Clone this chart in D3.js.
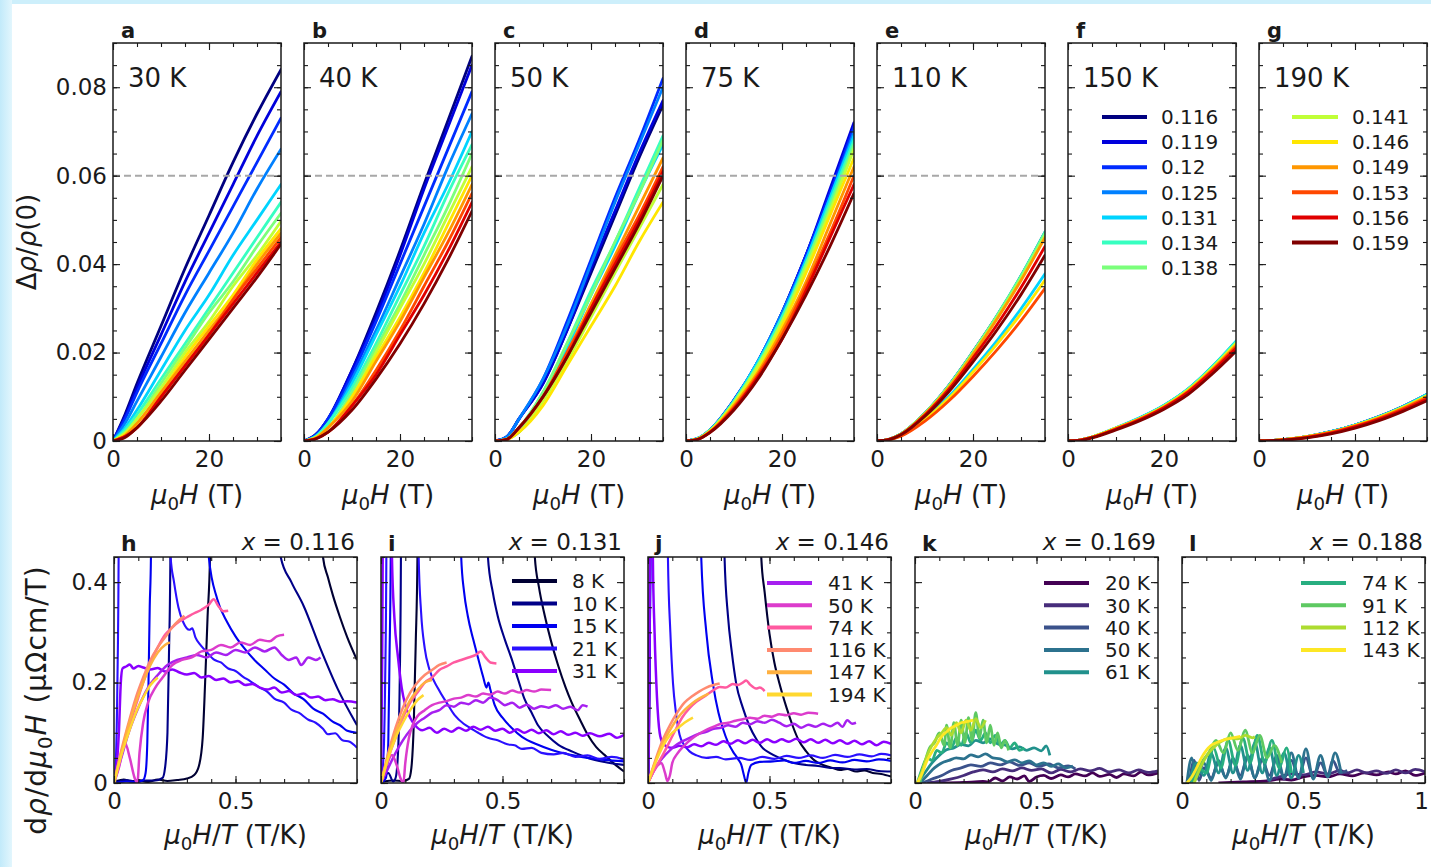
<!DOCTYPE html>
<html>
<head>
<meta charset="utf-8">
<title>Magnetoresistance and field derivative</title>
<script src="https://d3js.org/d3.v7.min.js"></script>
<style>
  body { margin: 0; background: #fff; }
  svg { display: block; }
</style>
</head>
<body>
<div id="chart"></div>
<script>

// ---------- top row: delta rho / rho(0) vs field, one array per temperature ----------
var fieldT = [0, 2.5, 5, 10, 15, 20, 25, 30, 35];
var dopings = ["0.116", "0.119", "0.12", "0.125", "0.131", "0.134", "0.138",
               "0.141", "0.146", "0.149", "0.153", "0.156", "0.159"];
var panelTemps = ["30 K", "40 K", "50 K", "75 K", "110 K", "150 K", "190 K"];

var mr30 = [
  [0, 0.006, 0.013, 0.026, 0.039, 0.051, 0.063, 0.074, 0.084],
  [0, 0.0055, 0.012, 0.024, 0.036, 0.047, 0.058, 0.069, 0.079],
  [0, 0.005, 0.011, 0.022, 0.033, 0.043, 0.053, 0.063, 0.073],
  [0, 0.004, 0.009, 0.019, 0.029, 0.038, 0.047, 0.057, 0.066],
  [0, 0.003, 0.007, 0.016, 0.025, 0.033, 0.042, 0.05, 0.058],
  [0, 0.0025, 0.006, 0.014, 0.022, 0.03, 0.038, 0.046, 0.054],
  [0, 0.002, 0.005, 0.013, 0.021, 0.029, 0.036, 0.044, 0.0515],
  [0, 0.0018, 0.005, 0.012, 0.02, 0.027, 0.035, 0.042, 0.0497],
  [0, 0.0015, 0.004, 0.011, 0.019, 0.026, 0.033, 0.041, 0.048],
  [0, 0.0012, 0.004, 0.011, 0.018, 0.025, 0.032, 0.04, 0.047],
  [0, 0.001, 0.003, 0.01, 0.017, 0.024, 0.032, 0.039, 0.046],
  [0, 0.001, 0.003, 0.01, 0.017, 0.024, 0.031, 0.038, 0.045],
  [0, 0.0008, 0.003, 0.009, 0.016, 0.023, 0.03, 0.037, 0.0445]
];
var mr40 = [
  [0, 0.0015, 0.005, 0.016, 0.029, 0.043, 0.058, 0.0725, 0.087],
  [0, 0.0015, 0.005, 0.016, 0.028, 0.042, 0.057, 0.071, 0.085],
  [0, 0.0014, 0.005, 0.015, 0.027, 0.04, 0.053, 0.066, 0.079],
  [0, 0.0012, 0.004, 0.014, 0.025, 0.037, 0.049, 0.062, 0.074],
  [0, 0.0011, 0.004, 0.013, 0.024, 0.035, 0.047, 0.058, 0.07],
  [0, 0.001, 0.004, 0.012, 0.022, 0.033, 0.044, 0.056, 0.067],
  [0, 0.0009, 0.003, 0.011, 0.021, 0.031, 0.042, 0.053, 0.065],
  [0, 0.0008, 0.003, 0.01, 0.02, 0.03, 0.04, 0.051, 0.062],
  [0, 0.0008, 0.003, 0.01, 0.019, 0.028, 0.038, 0.049, 0.06],
  [0, 0.0007, 0.003, 0.009, 0.018, 0.027, 0.037, 0.047, 0.058],
  [0, 0.0006, 0.002, 0.008, 0.016, 0.025, 0.035, 0.045, 0.056],
  [0, 0.0005, 0.002, 0.008, 0.015, 0.024, 0.033, 0.043, 0.054],
  [0, 0.0005, 0.002, 0.007, 0.014, 0.022, 0.031, 0.041, 0.052]
];
var mr50 = [
  [0, 0.001, 0.005, 0.013, 0.025, 0.038, 0.051, 0.064, 0.076],
  [0, 0.001, 0.005, 0.013, 0.025, 0.039, 0.052, 0.065, 0.077],
  [0, 0.001, 0.005, 0.014, 0.027, 0.041, 0.055, 0.068, 0.082],
  [0, 0.001, 0.005, 0.014, 0.026, 0.04, 0.054, 0.067, 0.08],
  [0, 0.0005, 0.002, 0.011, 0.021, 0.033, 0.044, 0.056, 0.067],
  [0, 0.0005, 0.003, 0.011, 0.022, 0.034, 0.045, 0.057, 0.069],
  [0, 0.0005, 0.003, 0.011, 0.022, 0.033, 0.045, 0.056, 0.068],
  [0, 0.0004, 0.002, 0.009, 0.018, 0.028, 0.038, 0.048, 0.058],
  [0, 0.0003, 0.002, 0.008, 0.017, 0.026, 0.035, 0.045, 0.054],
  [0, 0.0004, 0.003, 0.01, 0.02, 0.031, 0.042, 0.053, 0.064],
  [0, 0.0004, 0.003, 0.01, 0.02, 0.03, 0.041, 0.051, 0.062],
  [0, 0.0004, 0.003, 0.01, 0.019, 0.03, 0.04, 0.05, 0.061],
  [0, 0.0004, 0.003, 0.01, 0.019, 0.029, 0.039, 0.049, 0.06]
];
var mr75 = [
  [0, 0.0006, 0.0025, 0.0092, 0.018, 0.029, 0.042, 0.056, 0.071],
  [0, 0.0006, 0.0025, 0.0093, 0.018, 0.029, 0.042, 0.057, 0.072],
  [0, 0.0006, 0.0025, 0.0092, 0.018, 0.029, 0.042, 0.056, 0.071],
  [0, 0.0006, 0.0025, 0.0092, 0.018, 0.029, 0.041, 0.055, 0.07],
  [0, 0.0006, 0.0025, 0.0091, 0.018, 0.028, 0.041, 0.055, 0.069],
  [0, 0.0006, 0.0024, 0.009, 0.0175, 0.028, 0.04, 0.054, 0.068],
  [0, 0.0005, 0.0024, 0.0088, 0.017, 0.027, 0.04, 0.053, 0.067],
  [0, 0.0005, 0.0023, 0.0086, 0.017, 0.027, 0.039, 0.052, 0.066],
  [0, 0.0005, 0.0022, 0.0083, 0.016, 0.026, 0.038, 0.051, 0.064],
  [0, 0.0005, 0.0021, 0.008, 0.0155, 0.025, 0.036, 0.049, 0.062],
  [0, 0.0004, 0.002, 0.0076, 0.015, 0.024, 0.035, 0.047, 0.06],
  [0, 0.0004, 0.002, 0.0073, 0.0145, 0.023, 0.034, 0.046, 0.058],
  [0, 0.0004, 0.0019, 0.007, 0.014, 0.023, 0.033, 0.044, 0.056]
];
var mr110 = [
  [0, 0.0004, 0.0016, 0.0063, 0.0126, 0.0202, 0.0283, 0.0373, 0.0472],
  [0, 0.0004, 0.0016, 0.0063, 0.0126, 0.0201, 0.0282, 0.0372, 0.047],
  [0, 0.0004, 0.0016, 0.0062, 0.0125, 0.02, 0.028, 0.037, 0.0468],
  [0, 0.0004, 0.0016, 0.0062, 0.0124, 0.0199, 0.0279, 0.0368, 0.0466],
  [0, 0.0003, 0.0013, 0.0051, 0.0101, 0.0162, 0.0227, 0.0299, 0.0378],
  [0, 0.0004, 0.0016, 0.0063, 0.0126, 0.0202, 0.0284, 0.0374, 0.0473],
  [0, 0.0004, 0.0016, 0.0063, 0.0125, 0.0201, 0.0282, 0.0371, 0.0469],
  [0, 0.0004, 0.0016, 0.0062, 0.0123, 0.0198, 0.0278, 0.0366, 0.0463],
  [0, 0.0003, 0.0012, 0.0049, 0.0097, 0.0156, 0.0219, 0.0288, 0.0364],
  [0, 0.0004, 0.0015, 0.0061, 0.0122, 0.0196, 0.0276, 0.0363, 0.046],
  [0, 0.0003, 0.0011, 0.0045, 0.0091, 0.0146, 0.0206, 0.0272, 0.0345],
  [0, 0.0004, 0.0015, 0.0059, 0.0117, 0.0188, 0.0263, 0.0347, 0.044],
  [0, 0.0003, 0.0014, 0.0056, 0.0112, 0.0179, 0.0251, 0.0331, 0.042]
];
var mr150 = [
  [0, 0.0002, 0.0009, 0.0029, 0.0052, 0.008, 0.0117, 0.0167, 0.0224],
  [0, 0.0002, 0.0009, 0.0029, 0.0052, 0.008, 0.0117, 0.0166, 0.0223],
  [0, 0.0002, 0.0009, 0.0029, 0.0051, 0.0079, 0.0116, 0.0165, 0.0222],
  [0, 0.0002, 0.0009, 0.0029, 0.0052, 0.008, 0.0116, 0.0166, 0.0223],
  [0, 0.0002, 0.0009, 0.003, 0.0053, 0.0081, 0.0118, 0.0168, 0.0226],
  [0, 0.0002, 0.0009, 0.0029, 0.0052, 0.008, 0.0117, 0.0167, 0.0224],
  [0, 0.0002, 0.0009, 0.0029, 0.0051, 0.0079, 0.0116, 0.0165, 0.0222],
  [0, 0.0002, 0.0009, 0.0029, 0.0051, 0.0078, 0.0115, 0.0164, 0.022],
  [0, 0.0002, 0.0009, 0.0029, 0.0051, 0.0078, 0.0114, 0.0163, 0.0219],
  [0, 0.0002, 0.0008, 0.0028, 0.005, 0.0077, 0.0113, 0.0161, 0.0216],
  [0, 0.0002, 0.0008, 0.0027, 0.0049, 0.0076, 0.0111, 0.0159, 0.0213],
  [0, 0.0002, 0.0008, 0.0027, 0.0048, 0.0075, 0.011, 0.0157, 0.021],
  [0, 0.0001, 0.0007, 0.0025, 0.0046, 0.0072, 0.0105, 0.0151, 0.0203]
];
var mr190 = [
  [0, 0.0001, 0.0003, 0.001, 0.0021, 0.0036, 0.0055, 0.0078, 0.0105],
  [0, 0.0001, 0.0003, 0.001, 0.0021, 0.0036, 0.0055, 0.0078, 0.0105],
  [0, 0.0001, 0.0003, 0.001, 0.0021, 0.0036, 0.0054, 0.0077, 0.0104],
  [0, 0.0001, 0.0003, 0.001, 0.0021, 0.0036, 0.0054, 0.0077, 0.0104],
  [0, 0.0001, 0.0003, 0.001, 0.0021, 0.0036, 0.0055, 0.0078, 0.0106],
  [0, 0.0001, 0.0003, 0.001, 0.0021, 0.0036, 0.0054, 0.0077, 0.0104],
  [0, 0.0001, 0.0003, 0.001, 0.002, 0.0035, 0.0054, 0.0076, 0.0103],
  [0, 0.0001, 0.0003, 0.001, 0.002, 0.0035, 0.0053, 0.0076, 0.0102],
  [0, 0.0001, 0.0003, 0.001, 0.002, 0.0035, 0.0053, 0.0075, 0.0102],
  [0, 0.0001, 0.0003, 0.001, 0.002, 0.0034, 0.0052, 0.0074, 0.01],
  [0, 0.0001, 0.0003, 0.0009, 0.0019, 0.0033, 0.0051, 0.0073, 0.0098],
  [0, 0.0001, 0.0002, 0.0008, 0.0018, 0.0032, 0.0049, 0.007, 0.0095],
  [0, 0.0001, 0.0002, 0.0007, 0.0016, 0.0029, 0.0046, 0.0067, 0.0091]
];

// ---------- bottom row: d rho / d mu0H vs mu0H/T, [x, y] pairs per temperature ----------
var sweepTemps = ["8 K", "10 K", "15 K", "21 K", "31 K", "41 K", "50 K", "74 K", "116 K", "147 K", "194 K"];
var dopingH = ["0.116", "0.131", "0.146", "0.169", "0.188"];

var dH = [
  [[0.01,0.004],[0.04,0.007],[0.07,0.003],[0.1,0.006],[0.14,0.002],[0.18,0.007],[0.22,0.004],[0.26,0.006],[0.3,0.009],[0.33,0.016],[0.35,0.035],[0.365,0.09],[0.375,0.2],[0.385,0.33],[0.395,0.45],[0.4,2],[0.84,2],[0.86,0.45],[0.88,0.41],[0.9,0.375],[0.93,0.33],[0.96,0.29],[1,0.245]],
  [[0.01,0.002],[0.05,0.006],[0.09,0.003],[0.13,0.005],[0.17,0.005],[0.2,0.01],[0.21,0.03],[0.22,0.1],[0.226,0.25],[0.232,0.45],[0.236,2],[0.68,2],[0.686,0.45],[0.73,0.4],[0.78,0.353],[0.85,0.267],[0.92,0.188],[1,0.115]],
  [[0.01,0],[0.05,0.003],[0.09,0.002],[0.12,0.006],[0.13,0.02],[0.137,0.08],[0.142,0.2],[0.147,0.35],[0.152,0.45],[0.156,2],[0.385,2],[0.39,0.45],[0.425,0.366],[0.466,0.32],[0.5,0.292],[0.54,0.266],[0.58,0.244],[0.62,0.226],[0.66,0.208],[0.7,0.196],[0.74,0.178],[0.78,0.167],[0.82,0.148],[0.86,0.138],[0.9,0.122],[0.93,0.115],[0.96,0.104],[1,0.1]],
  [[0,0],[0.008,0.05],[0.014,0.2],[0.019,0.45],[0.022,2],[0.228,2],[0.233,0.45],[0.247,0.4],[0.265,0.35],[0.285,0.32],[0.31,0.305],[0.322,0.308],[0.335,0.29],[0.357,0.274],[0.38,0.262],[0.41,0.246],[0.44,0.24],[0.47,0.228],[0.5,0.223],[0.53,0.212],[0.56,0.203],[0.6,0.19],[0.63,0.182],[0.66,0.168],[0.7,0.16],[0.73,0.146],[0.76,0.14],[0.8,0.126],[0.83,0.12],[0.86,0.108],[0.88,0.097],[0.91,0.099],[0.94,0.085],[0.97,0.082],[1,0.07]],
  [[0,0],[0.01,0.03],[0.02,0.1],[0.028,0.2],[0.035,0.228],[0.05,0.232],[0.065,0.236],[0.08,0.228],[0.1,0.233],[0.12,0.23],[0.15,0.226],[0.18,0.229],[0.21,0.222],[0.24,0.226],[0.27,0.22],[0.3,0.216],[0.33,0.219],[0.36,0.21],[0.39,0.213],[0.42,0.205],[0.45,0.208],[0.48,0.2],[0.51,0.203],[0.54,0.195],[0.57,0.197],[0.6,0.19],[0.63,0.186],[0.66,0.19],[0.69,0.18],[0.72,0.183],[0.75,0.175],[0.78,0.178],[0.81,0.17],[0.84,0.172],[0.87,0.165],[0.9,0.167],[0.93,0.162],[0.96,0.163],[1,0.16]],
  [[0,0],[0.03,0.05],[0.06,0.1],[0.1,0.15],[0.14,0.19],[0.18,0.215],[0.22,0.235],[0.26,0.245],[0.3,0.25],[0.34,0.255],[0.38,0.25],[0.42,0.26],[0.46,0.255],[0.5,0.265],[0.54,0.26],[0.58,0.27],[0.62,0.262],[0.66,0.27],[0.69,0.255],[0.72,0.245],[0.75,0.25],[0.77,0.235],[0.8,0.25],[0.83,0.245],[0.85,0.25]],
  [[0,0],[0.02,0.03],[0.045,0.08],[0.065,0.05],[0.085,0.01],[0.096,0],[0.105,0.06],[0.12,0.12],[0.14,0.16],[0.17,0.19],[0.2,0.21],[0.24,0.235],[0.28,0.245],[0.32,0.25],[0.36,0.262],[0.4,0.265],[0.44,0.275],[0.48,0.27],[0.52,0.28],[0.56,0.275],[0.6,0.285],[0.64,0.282],[0.67,0.292],[0.7,0.295]],
  [[0,0],[0.03,0.06],[0.06,0.11],[0.09,0.155],[0.12,0.2],[0.15,0.24],[0.18,0.27],[0.21,0.295],[0.24,0.31],[0.27,0.322],[0.3,0.33],[0.33,0.338],[0.36,0.345],[0.39,0.355],[0.41,0.366],[0.43,0.352],[0.45,0.342],[0.47,0.343]],
  [[0,0],[0.03,0.065],[0.06,0.12],[0.09,0.17],[0.12,0.21],[0.15,0.245],[0.18,0.27],[0.21,0.29],[0.24,0.31],[0.27,0.325],[0.29,0.333]],
  [[0,0],[0.03,0.06],[0.06,0.115],[0.09,0.16],[0.12,0.2],[0.15,0.235],[0.18,0.26],[0.21,0.275],[0.23,0.28]],
  [[0,0],[0.03,0.055],[0.06,0.1],[0.09,0.14],[0.12,0.17],[0.15,0.195],[0.18,0.21]]
];
var dI = [
  [[0.01,0.003],[0.05,0.005],[0.09,0.004],[0.115,0.008],[0.125,0.03],[0.135,0.12],[0.143,0.28],[0.15,0.45],[0.154,2],[0.628,2],[0.633,0.45],[0.65,0.39],[0.674,0.333],[0.7,0.282],[0.729,0.234],[0.76,0.19],[0.784,0.161],[0.82,0.125],[0.852,0.095],[0.885,0.072],[0.92,0.056],[0.96,0.038],[1,0.023]],
  [[0.01,0.01],[0.03,0.02],[0.05,0.003],[0.06,0.01],[0.07,0.06],[0.077,0.2],[0.082,0.45],[0.085,2],[0.435,2],[0.44,0.45],[0.46,0.38],[0.48,0.333],[0.51,0.285],[0.537,0.248],[0.565,0.205],[0.59,0.168],[0.62,0.14],[0.646,0.115],[0.69,0.092],[0.73,0.076],[0.79,0.062],[0.852,0.05],[0.92,0.042],[1,0.036]],
  [[0,0],[0.02,0.01],[0.03,0.08],[0.035,0.25],[0.04,0.45],[0.043,2],[0.325,2],[0.33,0.45],[0.342,0.38],[0.357,0.333],[0.38,0.285],[0.4,0.248],[0.42,0.212],[0.434,0.19],[0.442,0.2],[0.45,0.186],[0.468,0.155],[0.5,0.13],[0.537,0.11],[0.58,0.092],[0.646,0.076],[0.7,0.066],[0.78,0.056],[0.85,0.05],[0.92,0.046],[1,0.043]],
  [[0,0],[0.01,0.05],[0.017,0.2],[0.022,0.45],[0.025,2],[0.15,2],[0.155,0.45],[0.165,0.34],[0.18,0.268],[0.2,0.225],[0.235,0.188],[0.27,0.16],[0.303,0.135],[0.34,0.118],[0.37,0.109],[0.4,0.1],[0.44,0.09],[0.48,0.085],[0.52,0.077],[0.55,0.075],[0.58,0.068],[0.62,0.07],[0.66,0.06],[0.71,0.057],[0.75,0.06],[0.8,0.052],[0.85,0.055],[0.9,0.048],[0.95,0.052],[1,0.047]],
  [[0,0],[0.004,0.2],[0.007,0.45],[0.009,2],[0.042,2],[0.045,0.45],[0.055,0.33],[0.07,0.25],[0.085,0.19],[0.1,0.155],[0.12,0.13],[0.14,0.115],[0.17,0.105],[0.2,0.11],[0.23,0.1],[0.26,0.108],[0.29,0.102],[0.32,0.11],[0.35,0.104],[0.38,0.112],[0.41,0.106],[0.44,0.112],[0.47,0.104],[0.5,0.108],[0.53,0.1],[0.56,0.107],[0.59,0.1],[0.62,0.106],[0.65,0.099],[0.68,0.105],[0.71,0.097],[0.74,0.103],[0.77,0.096],[0.8,0.1],[0.83,0.094],[0.86,0.099],[0.9,0.093],[0.94,0.098],[0.97,0.09],[1,0.096]],
  [[0,0],[0.03,0.03],[0.06,0.06],[0.09,0.085],[0.12,0.105],[0.15,0.12],[0.18,0.13],[0.21,0.14],[0.24,0.145],[0.27,0.155],[0.3,0.152],[0.33,0.16],[0.36,0.157],[0.39,0.165],[0.42,0.16],[0.45,0.17],[0.48,0.165],[0.51,0.155],[0.54,0.16],[0.57,0.15],[0.6,0.156],[0.63,0.148],[0.66,0.153],[0.69,0.15],[0.72,0.155],[0.75,0.148],[0.78,0.152],[0.81,0.145],[0.83,0.155],[0.85,0.152]],
  [[0,0],[0.02,0.03],[0.045,0.056],[0.065,0.035],[0.08,0.01],[0.092,0],[0.1,0.04],[0.115,0.09],[0.13,0.115],[0.15,0.133],[0.18,0.145],[0.21,0.155],[0.24,0.16],[0.27,0.163],[0.3,0.168],[0.33,0.17],[0.36,0.175],[0.39,0.172],[0.42,0.178],[0.45,0.176],[0.48,0.182],[0.51,0.178],[0.54,0.184],[0.57,0.18],[0.6,0.185],[0.63,0.182],[0.66,0.186],[0.7,0.185]],
  [[0,0],[0.03,0.05],[0.06,0.09],[0.09,0.13],[0.12,0.16],[0.15,0.18],[0.18,0.2],[0.21,0.21],[0.24,0.225],[0.27,0.232],[0.3,0.24],[0.33,0.245],[0.36,0.25],[0.39,0.255],[0.41,0.262],[0.43,0.25],[0.45,0.24],[0.475,0.238]],
  [[0,0],[0.03,0.06],[0.06,0.11],[0.09,0.15],[0.12,0.18],[0.15,0.2],[0.18,0.215],[0.21,0.225],[0.24,0.235],[0.27,0.24]],
  [[0,0],[0.03,0.055],[0.06,0.1],[0.09,0.135],[0.12,0.165],[0.15,0.185],[0.18,0.2],[0.21,0.205]],
  [[0,0],[0.03,0.05],[0.06,0.09],[0.09,0.12],[0.12,0.145],[0.15,0.165],[0.175,0.175]]
];
var dJ = [
  [[0,0],[0.004,0.1],[0.008,0.45],[0.01,2],[0.46,2],[0.466,0.45],[0.48,0.38],[0.5,0.297],[0.52,0.24],[0.541,0.198],[0.57,0.15],[0.596,0.113],[0.62,0.085],[0.651,0.063],[0.685,0.045],[0.72,0.036],[0.76,0.03],[0.79,0.026],[0.82,0.028],[0.856,0.023],[0.89,0.025],[0.925,0.02],[0.96,0.018],[1,0.013]],
  [[0,0],[0.005,0.15],[0.009,0.45],[0.011,2],[0.31,2],[0.315,0.45],[0.329,0.333],[0.345,0.26],[0.363,0.198],[0.39,0.15],[0.418,0.113],[0.445,0.088],[0.473,0.069],[0.5,0.06],[0.541,0.05],[0.6,0.04],[0.65,0.036],[0.7,0.034],[0.75,0.03],[0.79,0.03],[0.85,0.027],[0.9,0.028],[0.95,0.024],[1,0.023]],
  [[0,0],[0.006,0.2],[0.01,0.45],[0.012,2],[0.215,2],[0.219,0.45],[0.24,0.3],[0.267,0.198],[0.29,0.14],[0.308,0.109],[0.33,0.08],[0.349,0.063],[0.37,0.048],[0.384,0.036],[0.395,0.015],[0.404,0],[0.413,0.02],[0.425,0.036],[0.46,0.042],[0.514,0.043],[0.56,0.045],[0.6,0.04],[0.65,0.044],[0.7,0.04],[0.75,0.045],[0.8,0.041],[0.85,0.046],[0.9,0.043],[0.95,0.047],[1,0.044]],
  [[0,0],[0.006,0.25],[0.01,0.45],[0.012,2],[0.078,2],[0.082,0.45],[0.092,0.3],[0.103,0.198],[0.115,0.14],[0.13,0.096],[0.15,0.075],[0.171,0.063],[0.2,0.055],[0.24,0.05],[0.28,0.052],[0.32,0.047],[0.377,0.05],[0.42,0.046],[0.47,0.052],[0.52,0.048],[0.57,0.054],[0.62,0.05],[0.67,0.055],[0.72,0.05],[0.77,0.056],[0.82,0.052],[0.87,0.057],[0.92,0.053],[0.96,0.058],[1,0.055]],
  [[0,0],[0.004,0.1],[0.008,0.45],[0.01,2],[0.017,2],[0.02,0.45],[0.027,0.3],[0.037,0.17],[0.048,0.1],[0.06,0.08],[0.08,0.072],[0.1,0.07],[0.13,0.074],[0.16,0.071],[0.19,0.077],[0.22,0.073],[0.25,0.08],[0.28,0.076],[0.31,0.083],[0.34,0.078],[0.37,0.085],[0.4,0.079],[0.43,0.086],[0.46,0.08],[0.49,0.087],[0.52,0.081],[0.55,0.087],[0.58,0.082],[0.61,0.088],[0.64,0.081],[0.67,0.087],[0.7,0.08],[0.73,0.086],[0.76,0.079],[0.79,0.085],[0.82,0.078],[0.85,0.084],[0.88,0.077],[0.91,0.083],[0.94,0.075],[0.97,0.082],[1,0.078]],
  [[0,0],[0.03,0.03],[0.06,0.05],[0.09,0.065],[0.12,0.077],[0.15,0.085],[0.18,0.092],[0.21,0.098],[0.24,0.102],[0.27,0.108],[0.3,0.11],[0.33,0.115],[0.36,0.112],[0.39,0.12],[0.42,0.117],[0.45,0.123],[0.48,0.12],[0.51,0.126],[0.54,0.12],[0.57,0.113],[0.6,0.118],[0.63,0.11],[0.66,0.116],[0.69,0.112],[0.72,0.118],[0.75,0.113],[0.78,0.12],[0.8,0.112],[0.82,0.125],[0.84,0.118],[0.856,0.12]],
  [[0,0],[0.02,0.02],[0.04,0.035],[0.055,0.04],[0.07,0.02],[0.08,0.004],[0.09,0.015],[0.1,0.04],[0.12,0.058],[0.15,0.075],[0.18,0.088],[0.21,0.098],[0.24,0.106],[0.27,0.112],[0.3,0.118],[0.33,0.12],[0.36,0.124],[0.39,0.127],[0.42,0.13],[0.45,0.128],[0.48,0.134],[0.51,0.132],[0.54,0.137],[0.57,0.135],[0.6,0.139],[0.63,0.136],[0.66,0.14],[0.7,0.138]],
  [[0,0],[0.03,0.03],[0.06,0.055],[0.103,0.096],[0.14,0.13],[0.171,0.149],[0.2,0.162],[0.24,0.175],[0.27,0.185],[0.295,0.191],[0.32,0.19],[0.349,0.197],[0.37,0.195],[0.39,0.2],[0.404,0.204],[0.42,0.196],[0.445,0.188],[0.46,0.19],[0.48,0.183]],
  [[0,0],[0.03,0.045],[0.06,0.085],[0.09,0.115],[0.12,0.14],[0.15,0.16],[0.18,0.172],[0.21,0.182],[0.24,0.19],[0.27,0.195],[0.295,0.198]],
  [[0,0],[0.03,0.042],[0.06,0.078],[0.09,0.105],[0.12,0.128],[0.15,0.145],[0.18,0.158],[0.21,0.168],[0.25,0.178]],
  [[0,0],[0.03,0.04],[0.06,0.072],[0.09,0.095],[0.12,0.108],[0.15,0.12],[0.185,0.13]]
];

var viridisTemps = ["20 K", "30 K", "40 K", "50 K", "61 K", "74 K", "91 K", "112 K", "143 K"];
var dK = [
  [[0.1,0],[0.2,0.001],[0.28,0.003],[0.3,0.002],[0.33,0.01],[0.36,0.004],[0.39,0.012],[0.42,0.008],[0.45,0.014],[0.47,0.003],[0.5,0.012],[0.53,0.015],[0.56,0.009],[0.6,0.016],[0.63,0.012],[0.66,0.018],[0.7,0.014],[0.73,0.02],[0.76,0.013],[0.8,0.017],[0.83,0.011],[0.86,0.018],[0.9,0.014],[0.93,0.022],[0.96,0.016],[1,0.02]],
  [[0.05,0],[0.1,0.003],[0.15,0.008],[0.2,0.015],[0.24,0.022],[0.28,0.026],[0.32,0.022],[0.36,0.028],[0.4,0.024],[0.44,0.03],[0.48,0.025],[0.52,0.028],[0.56,0.02],[0.6,0.027],[0.64,0.022],[0.68,0.028],[0.72,0.024],[0.76,0.029],[0.8,0.022],[0.84,0.026],[0.88,0.02],[0.92,0.026],[0.96,0.021],[1,0.024]],
  [[0.03,0],[0.07,0.008],[0.11,0.015],[0.15,0.025],[0.19,0.03],[0.23,0.036],[0.27,0.033],[0.31,0.04],[0.35,0.036],[0.39,0.042],[0.43,0.035],[0.47,0.04],[0.51,0.033],[0.55,0.038],[0.59,0.03],[0.63,0.034],[0.66,0.028]],
  [[0.02,0],[0.05,0.015],[0.08,0.03],[0.11,0.04],[0.14,0.045],[0.17,0.05],[0.2,0.048],[0.23,0.056],[0.26,0.052],[0.29,0.058],[0.32,0.05],[0.35,0.048],[0.38,0.042],[0.41,0.046],[0.44,0.04],[0.47,0.044],[0.5,0.036],[0.53,0.04],[0.56,0.033],[0.59,0.038],[0.62,0.03],[0.65,0.034]],
  [[0.01,0],[0.04,0.02],[0.07,0.04],[0.1,0.055],[0.13,0.066],[0.16,0.07],[0.19,0.077],[0.22,0.074],[0.25,0.085],[0.28,0.08],[0.31,0.088],[0.34,0.078],[0.37,0.076],[0.4,0.068],[0.43,0.072],[0.46,0.065],[0.49,0.07],[0.52,0.064],[0.54,0.074],[0.555,0.055]],
  [[0.01,0],[0.03,0.03],[0.05,0.05],[0.07,0.045],[0.09,0.065],[0.11,0.06],[0.13,0.08],[0.15,0.07],[0.17,0.09],[0.19,0.075],[0.21,0.1],[0.23,0.08],[0.25,0.105],[0.27,0.085],[0.29,0.1],[0.31,0.08],[0.33,0.095],[0.35,0.075],[0.37,0.085],[0.39,0.07],[0.41,0.08],[0.43,0.065],[0.45,0.07]],
  [[0.02,0],[0.04,0.04],[0.06,0.07],[0.08,0.08],[0.1,0.1],[0.12,0.075],[0.13,0.115],[0.145,0.07],[0.16,0.12],[0.175,0.075],[0.19,0.125],[0.205,0.08],[0.22,0.13],[0.235,0.085],[0.25,0.14],[0.265,0.09],[0.28,0.125],[0.295,0.08],[0.31,0.115],[0.325,0.075],[0.34,0.1],[0.355,0.07],[0.37,0.085],[0.385,0.065]],
  [[0.01,0],[0.03,0.025],[0.05,0.055],[0.07,0.075],[0.09,0.09],[0.11,0.1],[0.13,0.11],[0.15,0.095],[0.17,0.12],[0.19,0.1],[0.21,0.125],[0.23,0.105],[0.25,0.128],[0.27,0.11],[0.29,0.125]],
  [[0.01,0],[0.03,0.02],[0.048,0.043],[0.07,0.062],[0.089,0.076],[0.11,0.093],[0.13,0.102],[0.15,0.11],[0.171,0.115],[0.19,0.12],[0.212,0.122],[0.24,0.125]]
];
var dL = [
  [[0.15,0],[0.25,0.002],[0.35,0.004],[0.4,0.008],[0.45,0.006],[0.5,0.012],[0.55,0.015],[0.6,0.012],[0.65,0.018],[0.7,0.014],[0.75,0.02],[0.8,0.016],[0.85,0.022],[0.88,0.018],[0.92,0.024],[0.96,0.015],[1,0.02]],
  [[0.35,0.005],[0.4,0.012],[0.45,0.018],[0.5,0.016],[0.55,0.022],[0.6,0.018],[0.65,0.025],[0.68,0.02],[0.72,0.026],[0.76,0.02],[0.8,0.024],[0.84,0.019],[0.88,0.026],[0.92,0.02],[0.96,0.027],[1,0.022]],
  [[0.03,0],[0.05,0.045],[0.07,0.005],[0.09,0.03],[0.12,0.01],[0.15,0.04],[0.18,0.012],[0.21,0.045],[0.24,0.015],[0.27,0.05],[0.3,0.01],[0.33,0.045],[0.36,0.015],[0.39,0.05],[0.42,0.008],[0.45,0.045],[0.48,0.012],[0.51,0.05],[0.54,0.01],[0.57,0.04],[0.6,0.015],[0.62,0.045],[0.65,0.02],[0.68,0.025]],
  [[0.02,0],[0.04,0.05],[0.06,0.01],[0.09,0.04],[0.12,0.005],[0.15,0.045],[0.18,0.01],[0.21,0.05],[0.24,0.008],[0.27,0.055],[0.3,0.01],[0.33,0.05],[0.36,0.005],[0.39,0.055],[0.42,0.012],[0.45,0.06],[0.48,0.01],[0.51,0.068],[0.54,0.008],[0.57,0.055],[0.6,0.012],[0.63,0.06],[0.655,0.02]],
  [[0.03,0],[0.06,0.04],[0.09,0.015],[0.12,0.06],[0.15,0.02],[0.18,0.07],[0.21,0.02],[0.24,0.075],[0.27,0.025],[0.3,0.08],[0.33,0.02],[0.36,0.07],[0.39,0.015],[0.42,0.06],[0.45,0.01],[0.48,0.055],[0.5,0.02]],
  [[0.04,0],[0.07,0.03],[0.1,0.02],[0.13,0.07],[0.16,0.03],[0.19,0.085],[0.22,0.035],[0.25,0.09],[0.28,0.04],[0.31,0.095],[0.34,0.04],[0.37,0.085],[0.4,0.03],[0.43,0.07],[0.45,0.02]],
  [[0.05,0],[0.08,0.04],[0.11,0.06],[0.14,0.085],[0.17,0.06],[0.2,0.1],[0.23,0.065],[0.26,0.105],[0.29,0.06],[0.32,0.095],[0.35,0.05],[0.38,0.075],[0.41,0.04]],
  [[0.05,0],[0.08,0.035],[0.11,0.06],[0.14,0.075],[0.17,0.085],[0.2,0.09],[0.23,0.088],[0.26,0.095],[0.29,0.09],[0.3,0.092]],
  [[0.02,0],[0.04,0.012],[0.06,0.03],[0.08,0.05],[0.1,0.065],[0.12,0.075],[0.15,0.082],[0.18,0.087],[0.21,0.09],[0.24,0.093]]
];

// ---------- styling ----------
var jetColors = ["#000080", "#0000dc", "#002bff", "#0080ff", "#00d4ff", "#37ffc0", "#7bff7b",
                 "#c0ff37", "#ffe600", "#ff9700", "#ff4800", "#e00000", "#800000"];
var sweepColors = ["#000033", "#000088", "#0000f0", "#2a10ff", "#8a00ff", "#a620f0", "#dc3ccc",
                   "#ff5aa0", "#ff8a70", "#ffb040", "#ffd830"];
var viridisColors = viridisTemps.map(function(d, i) { return d3.interpolateViridis(i / 8); });

var FONT = "'DejaVu Sans', sans-serif";
var INK = "#1a1a1a";
var TICK_FONT = 23;

var svg = d3.select("#chart").append("svg")
    .attr("width", 1431).attr("height", 867)
    .style("font-family", FONT);

// light blue page frame seen at the left/top edge of the figure
var grad = svg.append("defs").append("linearGradient").attr("id", "edge");
grad.append("stop").attr("offset", "0%").attr("stop-color", "#c2eafa");
grad.append("stop").attr("offset", "100%").attr("stop-color", "#e2f6fd");
svg.append("rect").attr("width", 1431).attr("height", 867).attr("fill", "#cdeffb");
svg.append("rect").attr("width", 12).attr("height", 867).attr("fill", "url(#edge)");
svg.append("rect").attr("x", 12).attr("y", 4).attr("width", 1419).attr("height", 863).attr("fill", "#fff");

// rich text helper: parts = [{t, i, sub, back}]
function rich(text, parts, size) {
  parts.forEach(function(p) {
    var ts = text.append("tspan").text(p.t);
    if (p.i) ts.attr("font-style", "italic");
    if (p.sub) ts.attr("font-size", size * 0.7).attr("dy", size * 0.22);
    if (p.back) ts.attr("dy", -size * 0.22);
  });
  return text;
}

function styleAxis(sel) {
  sel.select(".domain").remove();
  sel.attr("font-family", null).attr("font-size", null);
  sel.selectAll("line").attr("stroke", INK).attr("stroke-width", 1.1);
  sel.selectAll("text").attr("fill", INK).attr("font-size", TICK_FONT).attr("font-family", FONT);
}

function frame(g, x, y, w, h, cfg) {
  g.append("g").attr("transform", "translate(0," + h + ")")
    .call(d3.axisBottom(x).tickValues(cfg.xMinor).tickSize(-4).tickFormat("")).call(styleAxis);
  var xb = g.append("g").attr("transform", "translate(0," + h + ")")
    .call(d3.axisBottom(x).tickValues(cfg.xMajor).tickSize(-7).tickPadding(10).tickFormat(cfg.xFmt)).call(styleAxis);
  // keep a label sitting on the right frame edge inside the page
  xb.selectAll(".tick text").filter(function(d) { return d === 1; }).attr("dx", -4);
  g.append("g").call(d3.axisTop(x).tickValues(cfg.xMinor).tickSize(-4).tickFormat("")).call(styleAxis);
  g.append("g").call(d3.axisTop(x).tickValues(cfg.xMajor).tickSize(-7).tickFormat("")).call(styleAxis);
  g.append("g").call(d3.axisLeft(y).tickValues(cfg.yMinor).tickSize(-4).tickFormat("")).call(styleAxis);
  g.append("g").call(d3.axisLeft(y).tickValues(cfg.yMajor).tickSize(-7).tickPadding(6)
      .tickFormat(cfg.yLabels ? cfg.yFmt : "")).call(styleAxis);
  g.append("g").attr("transform", "translate(" + w + ",0)")
    .call(d3.axisRight(y).tickValues(cfg.yMinor).tickSize(-4).tickFormat("")).call(styleAxis);
  g.append("g").attr("transform", "translate(" + w + ",0)")
    .call(d3.axisRight(y).tickValues(cfg.yMajor).tickSize(-7).tickFormat("")).call(styleAxis);
  g.append("rect").attr("width", w).attr("height", h)
    .attr("fill", "none").attr("stroke", INK).attr("stroke-width", 1.5);
}

function legend(g, labels, colors, x0, x1, xt, y0, dy, size) {
  labels.forEach(function(lab, i) {
    var yy = y0 + i * dy;
    g.append("line").attr("x1", x0).attr("x2", x1).attr("y1", yy).attr("y2", yy)
      .attr("stroke", colors[i]).attr("stroke-width", 4);
    g.append("text").attr("x", xt).attr("y", yy).attr("dy", "0.36em")
      .attr("font-size", size).attr("fill", INK).text(lab);
  });
}

// ---------- top row ----------
var topData = [mr30, mr40, mr50, mr75, mr110, mr150, mr190];
var topLefts = [113, 304, 495, 686, 877, 1068, 1259];
var topLetters = ["a", "b", "c", "d", "e", "f", "g"];
var TOP_Y = 43, TOP_W = 168, TOP_H = 398;

var xTop = d3.scaleLinear().domain([0, 35]).range([0, TOP_W]);
var yTop = d3.scaleLinear().domain([0, 0.09]).range([TOP_H, 0]);
var topLine = d3.line().x(function(d) { return xTop(d[0]); })
    .y(function(d) { return yTop(d[1]); }).curve(d3.curveMonotoneX);

topData.forEach(function(series, p) {
  var g = svg.append("g").attr("transform", "translate(" + topLefts[p] + "," + TOP_Y + ")");
  var clipId = "clipTop" + p;
  g.append("clipPath").attr("id", clipId).append("rect").attr("width", TOP_W).attr("height", TOP_H);
  var plot = g.append("g").attr("clip-path", "url(#" + clipId + ")");

  series.forEach(function(vals, k) {
    plot.append("path")
      .datum(fieldT.map(function(f, j) { return [f, vals[j]]; }))
      .attr("d", topLine).attr("fill", "none")
      .attr("stroke", jetColors[k]).attr("stroke-width", 2.8)
      .attr("stroke-linejoin", "round").attr("stroke-linecap", "round");
  });

  if (p < 5) {
    plot.append("line").attr("x1", 0).attr("x2", TOP_W)
      .attr("y1", yTop(0.06)).attr("y2", yTop(0.06))
      .attr("stroke", "#a8a8a8").attr("stroke-width", 2).attr("stroke-dasharray", "7,4");
  }

  frame(g, xTop, yTop, TOP_W, TOP_H, {
    xMajor: [0, 20], xMinor: d3.range(0, 35.1, 5),
    yMajor: [0, 0.02, 0.04, 0.06, 0.08], yMinor: d3.range(0, 0.0901, 0.005),
    xFmt: function(d) { return d3.format("d")(d); },
    yFmt: function(d) { return d === 0 ? "0" : d3.format(".2f")(d); },
    yLabels: p === 0
  });

  g.append("text").attr("x", 8).attr("y", -5).attr("font-size", 21)
    .attr("font-weight", "bold").attr("fill", INK).text(topLetters[p]);
  g.append("text").attr("x", 15).attr("y", 44).attr("font-size", 26)
    .attr("fill", INK).text(panelTemps[p]);
  rich(g.append("text").attr("x", TOP_W / 2).attr("y", 461).attr("text-anchor", "middle")
    .attr("font-size", 26).attr("fill", INK),
    [{t: "\u03bc", i: true}, {t: "0", sub: true}, {t: "H", i: true, back: true}, {t: " (T)"}], 26);

  if (p === 5) legend(g, dopings.slice(0, 7), jetColors.slice(0, 7), 34, 79, 93, 74, 25.1, 20);
  if (p === 6) legend(g, dopings.slice(7), jetColors.slice(7), 33, 79, 93, 74, 25.1, 20);
});

rich(svg.append("text").attr("transform", "translate(36,242) rotate(-90)")
  .attr("text-anchor", "middle").attr("font-size", 26).attr("fill", INK),
  [{t: "\u0394"}, {t: "\u03c1", i: true}, {t: "/"}, {t: "\u03c1", i: true}, {t: "(0)"}], 26);

// ---------- bottom row ----------
var botData = [dH, dI, dJ, dK, dL];
var botLefts = [114, 381, 648, 915, 1182];
var botLetters = ["h", "i", "j", "k", "l"];
var BOT_Y = 557, BOT_W = 243, BOT_H = 226;

var xBot = d3.scaleLinear().domain([0, 1]).range([0, BOT_W]);
var yBot = d3.scaleLinear().domain([0, 0.45]).range([BOT_H, 0]);
var botLine = d3.line().x(function(d) { return xBot(d[0]); })
    .y(function(d) { return yBot(d[1]); }).curve(d3.curveMonotoneX);

botData.forEach(function(series, p) {
  var g = svg.append("g").attr("transform", "translate(" + botLefts[p] + "," + BOT_Y + ")");
  var clipId = "clipBot" + p;
  g.append("clipPath").attr("id", clipId).append("rect").attr("width", BOT_W).attr("height", BOT_H);
  var plot = g.append("g").attr("clip-path", "url(#" + clipId + ")");
  var colors = p < 3 ? sweepColors : viridisColors;

  series.forEach(function(pts, k) {
    plot.append("path").datum(pts).attr("d", botLine).attr("fill", "none")
      .attr("stroke", colors[k]).attr("stroke-width", p < 3 ? (k > 3 ? 2.5 : 2.1) : 2.8)
      .attr("stroke-linejoin", "round");
  });

  frame(g, xBot, yBot, BOT_W, BOT_H, {
    xMajor: p === 4 ? [0, 0.5, 1] : [0, 0.5], xMinor: d3.range(0, 1.001, 0.1),
    yMajor: [0, 0.2, 0.4], yMinor: d3.range(0, 0.451, 0.05),
    xFmt: function(d) { return d === 0 ? "0" : d === 1 ? "1" : d3.format(".1f")(d); },
    yFmt: function(d) { return d === 0 ? "0" : d3.format(".1f")(d); },
    yLabels: p === 0
  });

  g.append("text").attr("x", 7).attr("y", -6).attr("font-size", 22)
    .attr("font-weight", "bold").attr("fill", INK).text(botLetters[p]);
  rich(g.append("text").attr("x", BOT_W - 2).attr("y", -7).attr("text-anchor", "end")
    .attr("font-size", 23).attr("fill", INK),
    [{t: "x", i: true}, {t: " = " + dopingH[p]}], 23);
  rich(g.append("text").attr("x", BOT_W / 2).attr("y", 287).attr("text-anchor", "middle")
    .attr("font-size", 26).attr("fill", INK),
    [{t: "\u03bc", i: true}, {t: "0", sub: true}, {t: "H", i: true, back: true},
     {t: "/"}, {t: "T", i: true}, {t: " (T/K)"}], 26);

  if (p === 1) legend(g, sweepTemps.slice(0, 5), sweepColors.slice(0, 5), 131, 176, 191, 24, 22.5, 20);
  if (p === 2) legend(g, sweepTemps.slice(5), sweepColors.slice(5), 119, 164, 180, 26, 22.3, 20);
  if (p === 3) legend(g, viridisTemps.slice(0, 5), viridisColors.slice(0, 5), 129, 174, 190, 26, 22.3, 20);
  if (p === 4) legend(g, viridisTemps.slice(5), viridisColors.slice(5), 119, 164, 180, 26, 22.3, 20);
});

rich(svg.append("text").attr("transform", "translate(46,700) rotate(-90)")
  .attr("text-anchor", "middle").attr("font-size", 28).attr("letter-spacing", 1).attr("fill", INK),
  [{t: "d"}, {t: "\u03c1", i: true}, {t: "/d"}, {t: "\u03bc", i: true}, {t: "0", sub: true},
   {t: "H", i: true, back: true}, {t: " (\u03bc\u03a9cm/T)"}], 28);

</script>
</body>
</html>
